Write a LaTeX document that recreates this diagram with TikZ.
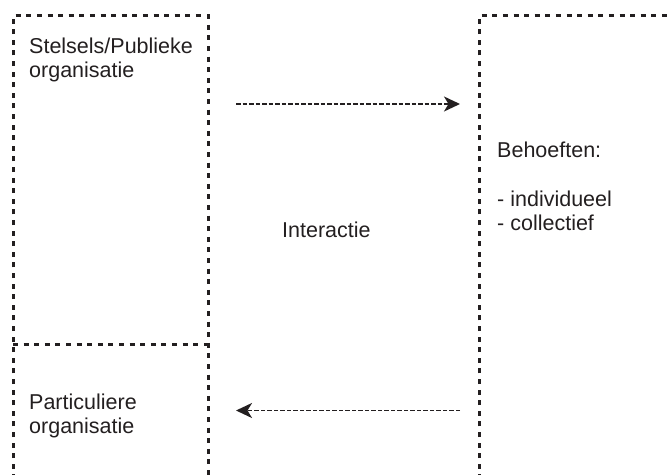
\documentclass[tikz,border=0pt]{standalone}
\usepackage{fontspec}
\setmainfont{Liberation Sans}
\usetikzlibrary{arrows.meta}
\definecolor{ink}{HTML}{231F20}
\tikzset{
  boxline/.style={draw=ink, line width=3pt, dash pattern=on 5pt off 5.6pt},
  flowarrow/.style={draw=ink, line width=1.8pt, dash pattern=on 4.5pt off 2pt,
    -{Stealth[length=16pt,width=15pt,inset=4.5pt]}},
  label/.style={text=ink, inner sep=0pt, anchor=base west, align=left,
    font=\fontsize{21.5}{24}\selectfont}
}
\begin{document}
\begin{tikzpicture}[x=1pt,y=-1pt]
\useasboundingbox (0,0) rectangle (668,474);
\clip (0,0) rectangle (668,474);
% left box (public + private organisation)
\draw[boxline] (13,490) -- (13,15.7) -- (208,15.7) -- (208,490);
\draw[boxline] (13,344) -- (208,344);
% right box (needs)
\draw[boxline] (479,490) -- (479,15.7) -- (690,15.7);
% texts (base anchor = baseline of the last line)
\node[label] (pub) at (29,77.5) {Stelsels/Publieke\\organisatie};
\node[label] (par) at (29,433) {Particuliere\\organisatie};
\node[label] (beh) at (497,230) {Behoeften:\\[25pt]- individueel\\- collectief};
\node[label] (int) at (282,237) {Interactie};
% arrow endpoints
\coordinate (a1s) at (236,104);
\coordinate (a1e) at (460,104);
\coordinate (a2s) at (460,410.5);
\coordinate (a2e) at (236,410.5);
\draw[flowarrow] (a1s) -- (a1e);
\draw[flowarrow] (a2s) -- (a2e);
\end{tikzpicture}
\end{document}
